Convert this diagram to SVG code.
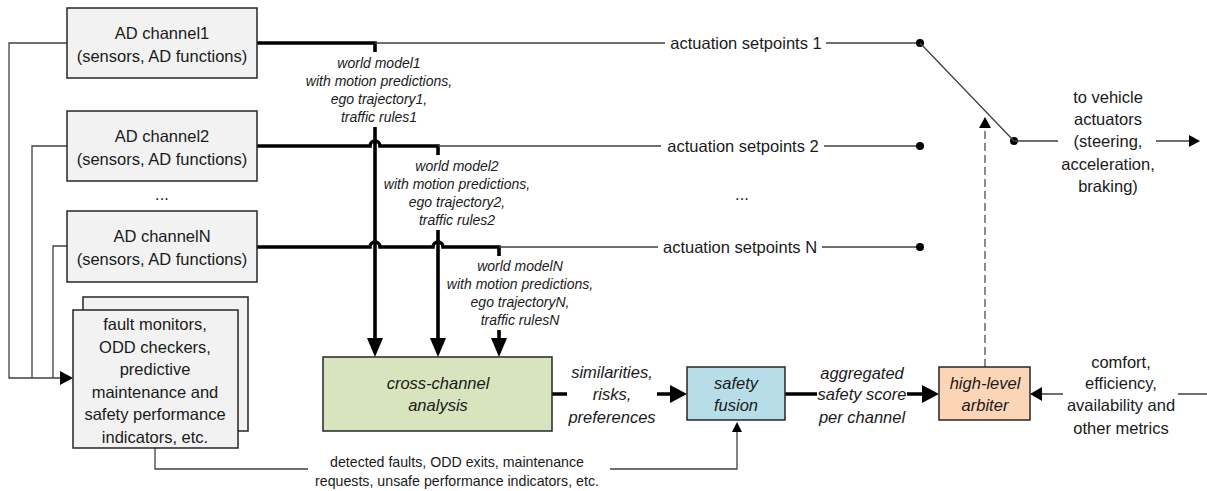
<svg xmlns="http://www.w3.org/2000/svg" width="1207" height="491" viewBox="0 0 1207 491">
<style>
.box{fill:#f2f2f2;stroke:#262626;stroke-width:1.5}
.t{font-family:"Liberation Sans",Arial,sans-serif;font-size:16.5px;fill:#1a1a1a;text-anchor:middle}
.i{font-family:"Liberation Sans",Arial,sans-serif;font-size:16.5px;font-style:italic;fill:#1a1a1a;text-anchor:middle}
.s{font-family:"Liberation Sans",Arial,sans-serif;font-size:14px;font-style:italic;fill:#1a1a1a;text-anchor:middle}
.b{font-family:"Liberation Sans",Arial,sans-serif;font-size:14.2px;fill:#1a1a1a;text-anchor:middle}
.thick{fill:none;stroke:#000;stroke-width:3.6}
.thin{fill:none;stroke:#404040;stroke-width:1.3}
.dash{fill:none;stroke:#404040;stroke-width:1.2;stroke-dasharray:8,4}
.ah{fill:#000}
</style>
<rect width="1207" height="491" fill="#fff"/>
<g id="connectors">
  <path class="thin" d="M67,43 H9 V378 H62"/>
  <path class="thin" d="M67,146 H32 V378"/>
  <path class="thin" d="M67,246 H53 V378"/>
  <polygon class="ah" points="73,378 60,371 60,385"/>
  <path class="thick" d="M257,43 H375 V52"/>
  <path class="thick" d="M375,127 V342"/>
  <polygon class="ah" points="375,357 367,338 383,338"/>
  <path class="thick" d="M257,146 H370 A5,5 0 0 1 380,146 H438 V155"/>
  <path class="thick" d="M438,230 V342"/>
  <polygon class="ah" points="438,357 430,338 446,338"/>
  <path class="thick" d="M257,247 H370 A5,5 0 0 1 380,247 H433 A5,5 0 0 1 443,247 H499 V256"/>
  <path class="thick" d="M499,330 V342"/>
  <polygon class="ah" points="499,357 491,338 507,338"/>
  <path class="thin" d="M375,43 H665 M826,43 H920"/>
  <path class="thin" d="M438,146 H661 M824,146 H920"/>
  <path class="thin" d="M499,247 H658 M822,247 H920"/>
  <circle cx="920" cy="43" r="4" fill="#000"/>
  <circle cx="920" cy="146" r="4" fill="#000"/>
  <circle cx="920" cy="247" r="4" fill="#000"/>
  <circle cx="1014" cy="141" r="4" fill="#000"/>
  <path class="thin" d="M920,43 L1014,141 M1014,141 H1058 M1156,141 H1190"/>
  <polygon class="ah" points="1200,141 1189,135 1189,147"/>
  <path class="dash" d="M985,367 V128"/>
  <polygon class="ah" points="985,117 979,128 991,128"/>
  <path class="thick" d="M552,394 H567 M657,394 H673"/>
  <polygon class="ah" points="687,394 670,385 670,403"/>
  <path class="thick" d="M785,394 H817 M907,394 H925"/>
  <polygon class="ah" points="939,394 922,385 922,403"/>
  <path class="thin" d="M1207,394 H1178 M1063,394 H1041"/>
  <polygon class="ah" points="1030,394 1042,387 1042,401"/>
  <path class="thin" d="M155,448 V469 H308 M610,469 H737 V431"/>
  <polygon class="ah" points="737,422 732,432 742,432"/>
  <text class="t" x="746" y="49">actuation setpoints 1</text>
  <text class="t" x="743" y="152">actuation setpoints 2</text>
  <text class="t" x="740" y="253">actuation setpoints N</text>
  <text class="t" x="742" y="200">...</text>
  <text class="t" x="162" y="200">...</text>
  <text class="s" x="379" y="68">world model1</text>
  <text class="s" x="379" y="86">with motion predictions,</text>
  <text class="s" x="379" y="104">ego trajectory1,</text>
  <text class="s" x="379" y="122">traffic rules1</text>
  <text class="s" x="457" y="171">world model2</text>
  <text class="s" x="457" y="189">with motion predictions,</text>
  <text class="s" x="457" y="207">ego trajectory2,</text>
  <text class="s" x="457" y="225">traffic rules2</text>
  <text class="s" x="520" y="271">world modelN</text>
  <text class="s" x="520" y="289">with motion predictions,</text>
  <text class="s" x="520" y="307">ego trajectoryN,</text>
  <text class="s" x="520" y="325">traffic rulesN</text>
  <text class="i" x="612" y="378">similarities,</text>
  <text class="i" x="612" y="400">risks,</text>
  <text class="i" x="612" y="423">preferences</text>
  <text class="i" x="862" y="379">aggregated</text>
  <text class="i" x="862" y="400">safety score</text>
  <text class="i" x="862" y="423">per channel</text>
  <text class="t" x="1121" y="368">comfort,</text>
  <text class="t" x="1121" y="389">efficiency,</text>
  <text class="t" x="1121" y="411">availability and</text>
  <text class="t" x="1121" y="434">other metrics</text>
  <text class="t" x="1108" y="103">to vehicle</text>
  <text class="t" x="1108" y="125">actuators</text>
  <text class="t" x="1108" y="147">(steering,</text>
  <text class="t" x="1108" y="170">acceleration,</text>
  <text class="t" x="1108" y="192">braking)</text>
  <text class="b" x="457" y="467">detected faults, ODD exits, maintenance</text>
  <text class="b" x="457" y="486">requests, unsafe performance indicators, etc.</text>
</g>
<g id="channel1">
  <rect class="box" x="67" y="8" width="190" height="70"/>
  <text class="t" x="162" y="39">AD channel1</text>
  <text class="t" x="162" y="62">(sensors, AD functions)</text>
</g>
<g id="channel2">
  <rect class="box" x="67" y="111" width="190" height="70"/>
  <text class="t" x="162" y="142">AD channel2</text>
  <text class="t" x="162" y="165">(sensors, AD functions)</text>
</g>
<g id="channelN">
  <rect class="box" x="67" y="211" width="190" height="71"/>
  <text class="t" x="162" y="242">AD channelN</text>
  <text class="t" x="162" y="265">(sensors, AD functions)</text>
</g>
<g id="monitors">
  <rect class="box" x="83" y="297" width="165" height="134"/>
  <rect class="box" x="73" y="310" width="165" height="138"/>
  <text class="t" x="155" y="330">fault monitors,</text>
  <text class="t" x="155" y="352.5">ODD checkers,</text>
  <text class="t" x="155" y="375">predictive</text>
  <text class="t" x="155" y="397.5">maintenance and</text>
  <text class="t" x="155" y="420">safety performance</text>
  <text class="t" x="155" y="442.5">indicators, etc.</text>
</g>
<g id="crosschannel">
  <rect x="323" y="357" width="229" height="74" fill="#d7e4bd" stroke="#262626" stroke-width="1.5"/>
  <text class="i" x="438" y="389">cross-channel</text>
  <text class="i" x="438" y="411">analysis</text>
</g>
<g id="safetyfusion">
  <rect x="687" y="367" width="98" height="53" fill="#b7dee8" stroke="#262626" stroke-width="1.5"/>
  <text class="i" x="736" y="389">safety</text>
  <text class="i" x="736" y="411">fusion</text>
</g>
<g id="arbiter">
  <rect x="939" y="367" width="91" height="53" fill="#fbd5b5" stroke="#262626" stroke-width="1.5"/>
  <text class="i" x="985" y="389">high-level</text>
  <text class="i" x="985" y="411">arbiter</text>
</g>
</svg>
